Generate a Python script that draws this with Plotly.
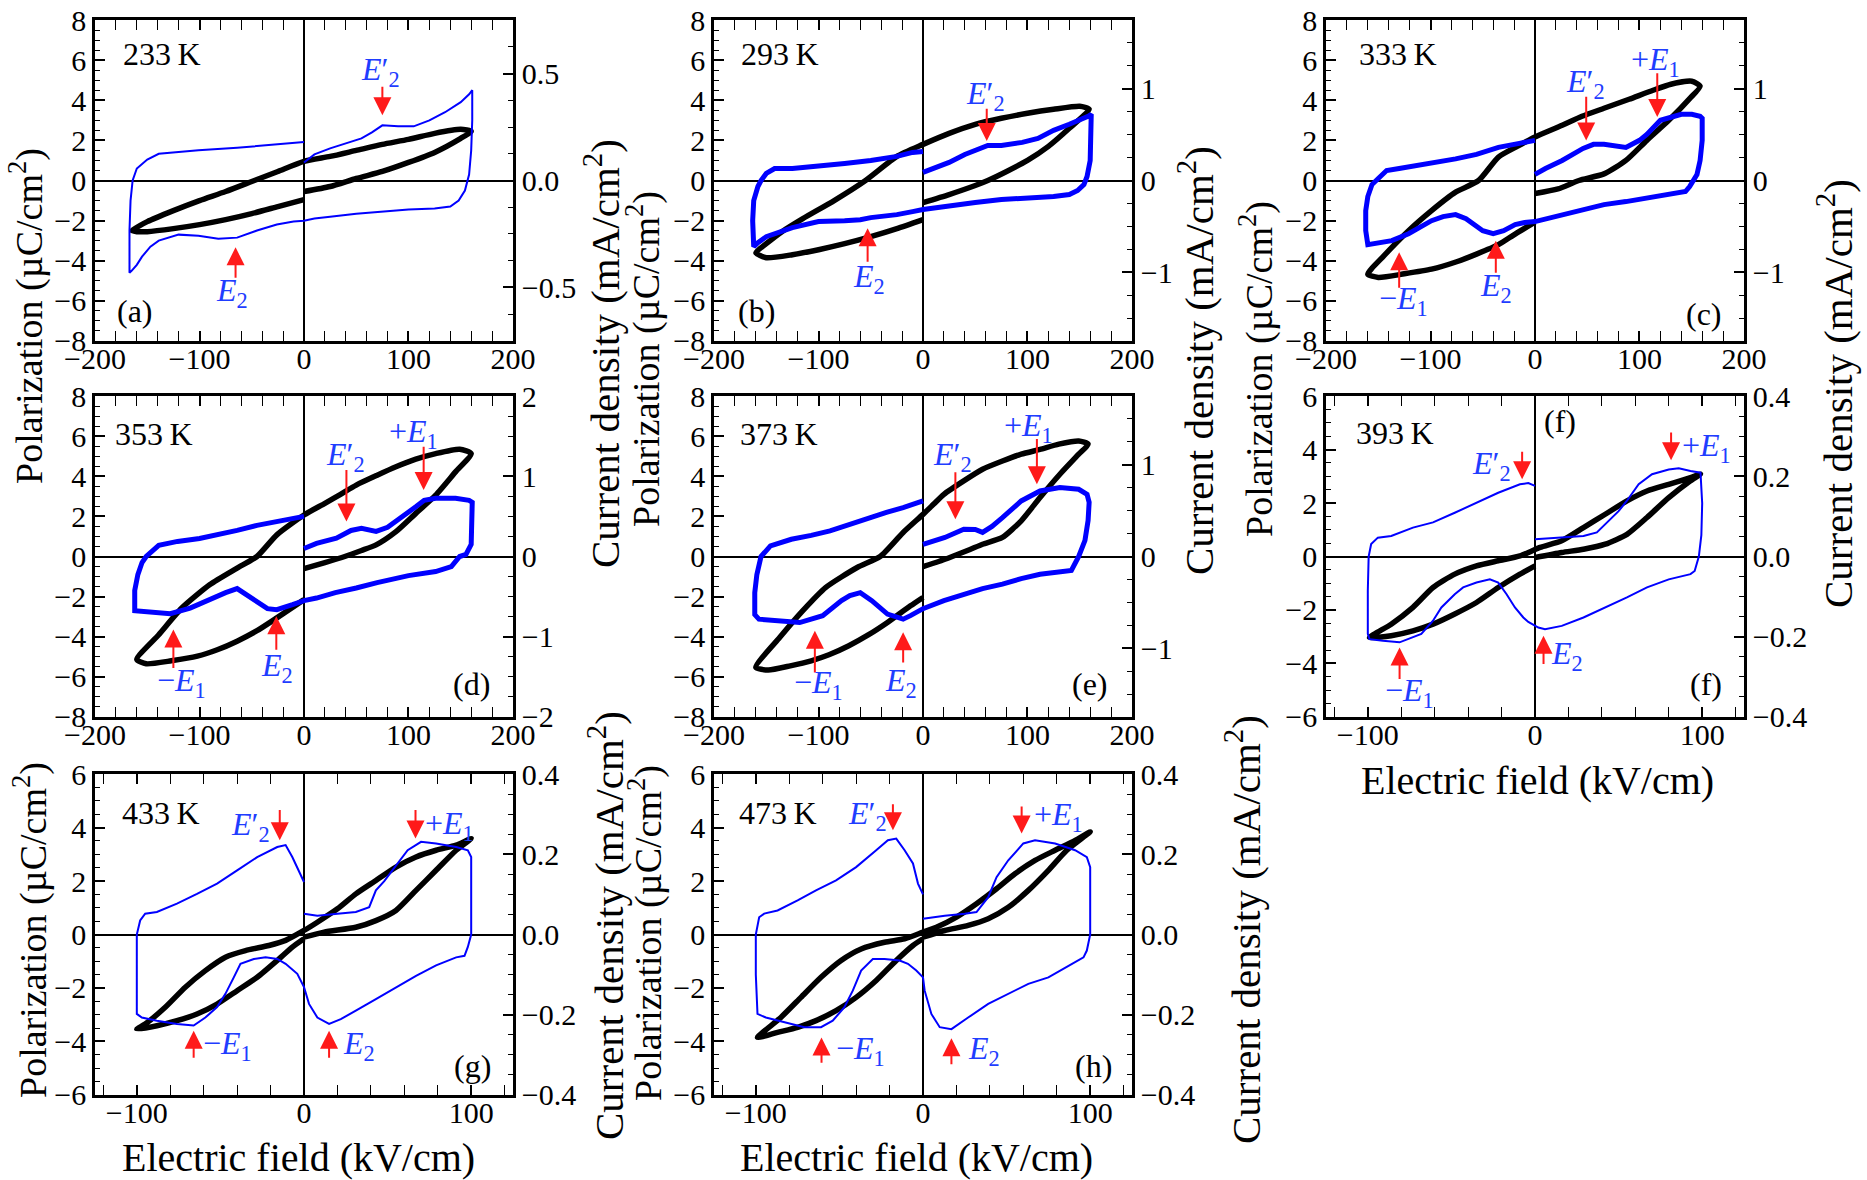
import plotly.graph_objects as go

FONT = "Liberation Serif, DejaVu Serif, Times New Roman, serif"
BLUE = "#0000ff"
LBLUE = "#1f3dff"
RED = "#ff1a1a"

# ---------------- data (E in kV/cm, P in uC/cm2, J in mA/cm2) ----------------
# (a) 233 K
a_E_pe = [0, 25, 50, 75, 100, 125, 150, 160, 150, 125, 100, 75, 50, 25, 0, -25, -50, -75, -100, -125, -150, -165, -160, -150, -125, -100, -75, -50, -25, 0]
a_P = [-0.55, -0.3, 0.1, 0.45, 0.9, 1.4, 2.1, 2.45, 2.55, 2.35, 2.05, 1.8, 1.5, 1.2, 0.95, 0.45, -0.05, -0.55, -1.0, -1.5, -2.05, -2.5, -2.55, -2.55, -2.4, -2.2, -1.95, -1.65, -1.3, -0.95]
a_E_j = [0, 10, 25, 40, 55, 65, 75, 90, 105, 120, 135, 150, 158, 161, 161, 160, 158, 154, 148, 140, 125, 100, 75, 50, 25, 10, 0, -10, -26, -45, -64, -82, -101, -120, -139, -147, -155, -160, -165, -167, -167, -166, -164, -160, -150, -139, -120, -101, -64, -26, 0]
a_J = [0.084, 0.122, 0.150, 0.173, 0.197, 0.225, 0.258, 0.253, 0.253, 0.281, 0.319, 0.366, 0.403, 0.422, 0.281, 0.141, 0.028, -0.047, -0.094, -0.122, -0.131, -0.136, -0.145, -0.155, -0.169, -0.178, -0.188, -0.192, -0.206, -0.234, -0.267, -0.272, -0.258, -0.253, -0.281, -0.309, -0.356, -0.394, -0.422, -0.431, -0.234, -0.094, 0.0, 0.056, 0.098, 0.125, 0.133, 0.141, 0.153, 0.169, 0.180]

# (b) 293 K
b_E_pe = [0, 25, 50, 62, 80, 100, 120, 140, 159, 150, 125, 100, 75, 50, 25, 0, -25, -55, -85, -115, -135, -150, -160, -150, -125, -100, -75, -50, -25, 0]
b_P = [-1.1, -0.7, -0.25, 0.0, 0.45, 1.0, 1.7, 2.6, 3.56, 3.7, 3.55, 3.35, 3.1, 2.8, 2.35, 1.8, 1.2, 0.0, -1.0, -1.9, -2.55, -3.15, -3.6, -3.85, -3.7, -3.45, -3.15, -2.8, -2.4, -1.95]
b_E_j = [0, 10, 25, 40, 55, 62, 75, 95, 110, 125, 140, 150, 158, 161, 161, 160, 157, 154, 148, 140, 125, 100, 75, 50, 25, 10, 0, -10, -25, -50, -60, -75, -100, -125, -140, -150, -158, -162, -163, -162, -158, -155, -150, -142, -125, -100, -75, -50, -25, -10, 0]
b_J = [0.088, 0.131, 0.197, 0.284, 0.35, 0.383, 0.383, 0.416, 0.459, 0.547, 0.613, 0.656, 0.7, 0.722, 0.438, 0.219, 0.044, -0.044, -0.109, -0.153, -0.175, -0.186, -0.208, -0.241, -0.273, -0.295, -0.317, -0.339, -0.372, -0.405, -0.427, -0.438, -0.448, -0.514, -0.569, -0.613, -0.678, -0.722, -0.438, -0.219, -0.066, 0.0, 0.077, 0.131, 0.131, 0.153, 0.186, 0.219, 0.263, 0.306, 0.317]

# (c) 333 K
c_E_pe = [0, 22, 42, 66, 87, 107, 128, 148, 158, 150, 130, 113, 90, 66, 45, 26, 0, -17, -35, -54, -76, -99, -121, -146, -160, -150, -125, -99, -75, -56, -35, -19, 0]
c_P = [-0.65, -0.42, 0.0, 0.33, 1.0, 2.0, 3.0, 4.08, 4.7, 4.95, 4.8, 4.5, 4.05, 3.6, 3.2, 2.75, 2.17, 1.7, 1.17, 0.0, -0.58, -1.5, -2.5, -3.83, -4.67, -4.83, -4.65, -4.42, -4.05, -3.67, -3.2, -2.67, -2.08]
c_E_j = [0, 10, 26, 46, 56, 66, 87, 100, 107, 120, 140, 150, 158, 160, 160, 158, 155, 152, 148, 144, 128, 100, 87, 66, 46, 25, 5, 0, -10, -19, -30, -40, -50, -56, -66, -76, -88, -99, -110, -121, -137, -150, -157, -160, -162, -162, -160, -156, -150, -142, -130, -117, -100, -76, -56, -35, -15, 0]
c_J = [0.066, 0.131, 0.219, 0.35, 0.394, 0.394, 0.361, 0.438, 0.503, 0.656, 0.722, 0.722, 0.7, 0.678, 0.438, 0.219, 0.066, 0.0, -0.066, -0.12, -0.153, -0.208, -0.23, -0.263, -0.317, -0.372, -0.427, -0.448, -0.459, -0.481, -0.547, -0.58, -0.547, -0.503, -0.416, -0.372, -0.394, -0.438, -0.514, -0.58, -0.656, -0.678, -0.7, -0.7, -0.547, -0.328, -0.175, -0.044, 0.022, 0.109, 0.131, 0.153, 0.186, 0.236, 0.284, 0.361, 0.405, 0.438]

# (d) 353 K
d_E_pe = [0, 20, 39, 55, 69, 88, 107, 126, 145, 160, 149, 126, 107, 88, 70, 50, 35, 20, 0, -26, -45, -64, -90, -117, -139, -160, -151, -127, -102, -83, -64, -45, -26, 0]
d_P = [-0.6, -0.3, 0.0, 0.3, 0.58, 1.24, 2.15, 3.06, 4.22, 5.13, 5.35, 5.13, 4.85, 4.47, 4.05, 3.56, 3.1, 2.65, 2.07, 1.08, 0.0, -0.58, -1.4, -2.57, -3.9, -5.13, -5.35, -5.2, -4.97, -4.65, -4.22, -3.7, -3.06, -2.15]
d_E_j = [0, 12, 31, 45, 55, 69, 80, 88, 100, 107, 115, 126, 145, 158, 161, 161, 160, 155, 149, 141, 126, 100, 88, 70, 50, 30, 12, 0, -11, -26, -35, -41, -52, -64, -75, -86, -109, -128, -147, -158, -162, -162, -159, -155, -151, -139, -121, -100, -83, -64, -45, -25, -11, 0]
d_J = [0.1, 0.163, 0.228, 0.325, 0.35, 0.313, 0.363, 0.435, 0.55, 0.62, 0.7, 0.725, 0.725, 0.7, 0.675, 0.375, 0.15, 0.025, 0.0, -0.125, -0.188, -0.238, -0.27, -0.325, -0.393, -0.45, -0.518, -0.55, -0.6, -0.663, -0.65, -0.6, -0.5, -0.4, -0.45, -0.518, -0.643, -0.713, -0.688, -0.688, -0.675, -0.425, -0.225, -0.075, 0.0, 0.138, 0.188, 0.225, 0.27, 0.325, 0.388, 0.438, 0.475, 0.5]

# (e) 373 K
e_E_pe = [0, 15, 28, 45, 57, 76, 94, 112, 131, 149, 158, 149, 130, 112, 94, 76, 57, 39, 20, 10, 0, -19, -41, -63, -93, -115, -137, -160, -148, -127, -107, -90, -71, -52, -34, -12, 0]
e_P = [-0.5, -0.25, 0.0, 0.35, 0.61, 0.95, 1.78, 2.94, 4.1, 5.1, 5.6, 5.76, 5.6, 5.34, 5.1, 4.76, 4.35, 3.77, 3.1, 2.6, 2.1, 1.2, 0.0, -0.55, -1.54, -2.7, -4.03, -5.53, -5.66, -5.45, -5.2, -4.9, -4.45, -3.9, -3.29, -2.46, -2.04]
e_E_j = [0, 10, 21, 39, 50, 57, 66, 76, 94, 112, 131, 149, 157, 159, 158, 155, 152, 149, 142, 112, 94, 76, 57, 39, 20, 3, 0, -12, -19, -34, -49, -60, -70, -78, -96, -118, -137, -157, -161, -161, -159, -155, -146, -126, -107, -89, -70, -52, -35, -19, -8, 0]
e_J = [0.131, 0.164, 0.208, 0.298, 0.295, 0.263, 0.328, 0.424, 0.606, 0.715, 0.753, 0.733, 0.678, 0.591, 0.394, 0.175, 0.066, 0.0, -0.153, -0.193, -0.241, -0.302, -0.35, -0.411, -0.481, -0.556, -0.569, -0.645, -0.683, -0.628, -0.481, -0.394, -0.427, -0.481, -0.645, -0.72, -0.7, -0.683, -0.634, -0.394, -0.197, 0.0, 0.116, 0.188, 0.23, 0.28, 0.35, 0.424, 0.481, 0.534, 0.569, 0.606]

# (f) 393 K
f_E_pe = [0, 16, 29, 42, 55, 67, 80, 93, 99, 93, 80, 67, 55, 42, 29, 16, 3, -9, -22, -35, -48, -61, -73, -86, -99, -86, -73, -61, -48, -35, -22, -9, 0]
f_P = [-0.04, 0.15, 0.27, 0.46, 0.83, 1.46, 2.2, 2.83, 3.08, 2.95, 2.7, 2.45, 2.08, 1.58, 1.08, 0.59, 0.34, 0.02, -0.16, -0.35, -0.66, -1.16, -1.9, -2.53, -3.03, -2.96, -2.78, -2.53, -2.15, -1.72, -1.16, -0.66, -0.35]
f_E_j = [0, 16, 29, 37, 44, 50, 55, 62, 70, 80, 86, 93, 99, 100, 99.5, 98, 95.5, 93, 80, 67, 55, 42, 29, 16, 6, 2, 0, -4, -7, -12, -17, -22, -27, -35, -43, -48, -56, -61, -68, -76, -81, -91, -99, -100, -100, -99.5, -98, -94, -86, -73, -61, -48, -35, -22, -9, -4, 0]
f_J = [0.043, 0.047, 0.051, 0.06, 0.089, 0.113, 0.139, 0.18, 0.205, 0.217, 0.22, 0.213, 0.209, 0.133, 0.053, 0.0, -0.036, -0.044, -0.057, -0.077, -0.102, -0.127, -0.152, -0.173, -0.181, -0.177, -0.173, -0.163, -0.152, -0.127, -0.094, -0.065, -0.057, -0.065, -0.077, -0.094, -0.127, -0.16, -0.193, -0.206, -0.214, -0.21, -0.206, -0.193, -0.085, 0.0, 0.031, 0.047, 0.051, 0.072, 0.085, 0.109, 0.135, 0.159, 0.18, 0.183, 0.176]

# (g) 433 K
g_E_pe = [0, 12, 31, 43, 55, 67, 79, 91, 100, 91, 79, 67, 55, 43, 31, 20, 8, 0, -11, -21, -35, -47, -59, -71, -83, -95, -100, -88, -76, -64, -52, -40, -28, -16, -7, 0]
g_P = [-0.1, 0.09, 0.27, 0.52, 0.9, 1.65, 2.4, 3.15, 3.59, 3.34, 3.15, 2.9, 2.52, 2.02, 1.52, 0.96, 0.46, 0.15, -0.22, -0.41, -0.6, -0.85, -1.35, -1.97, -2.72, -3.35, -3.54, -3.41, -3.22, -2.97, -2.6, -2.1, -1.6, -0.97, -0.47, -0.16]
g_E_j = [0, 8, 20, 31, 39, 43, 48, 53, 62, 70, 79, 91, 98, 100, 100, 100, 98, 96, 91, 79, 67, 55, 43, 31, 22, 15, 8, 3, 0, -4, -11, -16, -23, -30, -38, -42, -47, -52, -59, -66, -76, -88, -97, -100, -100, -100, -98, -95, -88, -76, -64, -52, -40, -28, -16, -11, -7, -2, 0]
g_J = [0.052, 0.047, 0.052, 0.056, 0.068, 0.11, 0.133, 0.16, 0.21, 0.231, 0.227, 0.218, 0.21, 0.193, 0.127, 0.0, -0.031, -0.053, -0.057, -0.077, -0.103, -0.131, -0.161, -0.19, -0.211, -0.223, -0.207, -0.173, -0.131, -0.098, -0.073, -0.061, -0.057, -0.061, -0.073, -0.107, -0.148, -0.181, -0.207, -0.227, -0.223, -0.215, -0.207, -0.198, -0.123, 0.0, 0.035, 0.052, 0.056, 0.077, 0.101, 0.127, 0.16, 0.193, 0.218, 0.223, 0.193, 0.151, 0.131]

# (h) 473 K
h_E_pe = [0, 13, 27, 39, 51, 63, 75, 86, 100, 91, 79, 67, 55, 44, 32, 20, 8, 0, -11, -23, -37, -49, -61, -73, -85, -99, -87, -75, -64, -52, -40, -28, -16, -6, 0]
h_P = [-0.1, 0.15, 0.34, 0.59, 1.02, 1.65, 2.4, 3.15, 3.84, 3.52, 3.15, 2.77, 2.27, 1.71, 1.15, 0.65, 0.27, 0.09, -0.16, -0.29, -0.54, -0.97, -1.6, -2.35, -3.1, -3.85, -3.66, -3.47, -3.22, -2.85, -2.35, -1.72, -0.97, -0.41, -0.16]
h_E_j = [0, 13, 25, 32, 39, 44, 51, 60, 67, 79, 91, 98, 100, 100, 100, 98, 96, 86, 75, 63, 51, 39, 27, 17, 10, 5, 1, 0, -4, -9, -14, -23, -30, -37, -42, -47, -54, -61, -71, -83, -94, -99, -100, -100, -98, -95, -87, -75, -64, -52, -40, -28, -21, -16, -11, -6, -3, 0]
h_J = [0.039, 0.047, 0.052, 0.056, 0.093, 0.143, 0.185, 0.227, 0.235, 0.227, 0.21, 0.193, 0.168, 0.067, 0.0, -0.04, -0.057, -0.081, -0.107, -0.123, -0.148, -0.173, -0.207, -0.236, -0.231, -0.198, -0.14, -0.107, -0.09, -0.073, -0.065, -0.061, -0.061, -0.09, -0.14, -0.181, -0.215, -0.231, -0.231, -0.219, -0.207, -0.198, -0.1, 0.0, 0.043, 0.052, 0.06, 0.085, 0.11, 0.135, 0.168, 0.21, 0.235, 0.239, 0.21, 0.177, 0.127, 0.1]

temps = ["233\u2009K", "293\u2009K", "333\u2009K", "353\u2009K", "373\u2009K", "393\u2009K", "433\u2009K", "473\u2009K"]
letters = ["(a)", "(b)", "(c)", "(d)", "(e)", "(f)", "(g)", "(h)"]

# ---------------- layout / style ----------------
pe_x = [a_E_pe, b_E_pe, c_E_pe, d_E_pe, e_E_pe, f_E_pe, g_E_pe, h_E_pe]
pe_y = [a_P, b_P, c_P, d_P, e_P, f_P, g_P, h_P]
j_x = [a_E_j, b_E_j, c_E_j, d_E_j, e_E_j, f_E_j, g_E_j, h_E_j]
j_y = [a_J, b_J, c_J, d_J, e_J, f_J, g_J, h_J]

W, H = 1867, 1180


def px(X):
    return X / W


def py(Y):
    return 1 - Y / H


grid_pos = [(0, 0), (0, 1), (0, 2), (1, 0), (1, 1), (1, 2), (2, 0), (2, 1)]
col_px = [(95, 513), (714, 1132), (1326, 1744)]
row_px = [(20, 341), (396, 717), (774, 1095)]
xdom = [[px(a), px(b)] for a, b in col_px]
ydom = [[py(b), py(a)] for a, b in row_px]
xr = [200, 200, 200, 200, 200, 125, 125, 125]
pr = [8, 8, 8, 8, 8, 6, 6, 6]
jr = [0.75, 1.75, 1.75, 2.0, 1.75, 0.4, 0.4, 0.4]
jdt = [0.5, 1, 1, 1, 1, 0.2, 0.2, 0.2]
jmin = [0.125, 0.25, 0.25, 0.25, 0.25, 0.05, 0.05, 0.05]
jfmt = [".1f", "d", "d", "d", "d", ".1f", ".1f", ".1f"]
blue_w = [2.0, 5.0, 5.0, 5.0, 5.0, 2.0, 2.0, 2.0]

temp_pos = [(-175, 6.33), (-176, 6.33), (-170, 6.33), (-183, 6.13), (-177, 6.12), (-108, 4.6), (-110, 4.53), (-111, 4.53)]
letter_pos = [[(-162, -6.5)], [(-159, -6.53)], [(162, -6.67)], [(160, -6.37)], [(160, -6.36)],
              [(15, 5.07), (102, -4.77)], [(100.5, -4.9)], [(102, -4.91)]]

E2p = "<i>E</i>\u2032<sub>2</sub>"
E2 = "<i>E</i><sub>2</sub>"
pE1 = "+<i>E</i><sub>1</sub>"
mE1 = "\u2212<i>E</i><sub>1</sub>"

# arrows: (x, head y, tail y)
arrows = [
    [(75, 3.25, 4.75), (-65.5, -3.33, -4.92)],
    [(61, 1.97, 3.65), (-53, -2.38, -4.13)],
    [(49, 2.0, 4.25), (117, 3.17, 5.42), (-130, -3.58, -5.42), (-37.5, -3.0, -4.67)],
    [(40.6, 1.74, 4.39), (114.5, 3.31, 5.55), (-125, -3.64, -5.63), (-26.5, -2.98, -4.72)],
    [(31, 1.86, 4.27), (109, 3.6, 5.93), (-103.5, -3.7, -5.86), (-19, -3.78, -5.36)],
    [(-7.7, 2.89, 3.97), (81.4, 3.6, 4.69), (-81, -3.4, -4.64), (5.1, -2.96, -4.08)],
    [(-14.5, 3.52, 4.71), (66.7, 3.59, 4.71), (-66, -3.6, -4.66), (15, -3.6, -4.66)],
    [(-18, 3.9, 4.93), (59, 3.78, 4.84), (-60.7, -3.85, -4.85), (17, -3.88, -4.91)],
]
# labels: (x, y, text, xanchor)
labels = [
    [(73, 5.42, E2p, "center"), (-69, -5.6, E2, "center")],
    [(60, 4.23, E2p, "center"), (-52, -4.9, E2, "center")],
    [(48, 4.85, E2p, "center"), (115, 5.95, pE1, "center"), (-126, -6.0, mE1, "center"), (-37, -5.35, E2, "center")],
    [(40, 5.0, E2p, "center"), (105, 6.15, pE1, "center"), (-117, -6.3, mE1, "center"), (-26, -5.55, E2, "center")],
    [(28, 5.0, E2p, "center"), (101, 6.42, pE1, "center"), (-100, -6.36, mE1, "center"), (-21, -6.27, E2, "center")],
    [(-26, 3.39, E2p, "center"), (86.5, 4.07, pE1, "left"), (-75, -5.08, mE1, "center"), (8.5, -3.71, E2, "left")],
    [(-32, 4.03, E2p, "center"), (71.4, 4.09, pE1, "left"), (-61.4, -4.16, mE1, "left"), (22, -4.16, E2, "left")],
    [(-33, 4.46, E2p, "center"), (65, 4.4, pE1, "left"), (-53, -4.35, mE1, "left"), (25.7, -4.35, E2, "left")],
]

fig = go.Figure()
layout = dict(
    width=W, height=H, autosize=False,
    margin=dict(l=0, r=0, t=0, b=0, pad=0, autoexpand=False),
    paper_bgcolor="white", plot_bgcolor="white",
    showlegend=False,
    font=dict(family=FONT, size=30, color="black"),
)
annotations = []

tickfont = dict(family=FONT, size=30, color="black")
for i in range(8):
    r, c = grid_pos[i]
    xn = "x" if i == 0 else f"x{i+1}"
    yl = "y" if i == 0 else f"y{2*i+1}"
    yr = f"y{2*i+2}"
    xk = "xaxis" if i == 0 else f"xaxis{i+1}"
    ylk = "yaxis" if i == 0 else f"yaxis{2*i+1}"
    yrk = f"yaxis{2*i+2}"

    fig.add_trace(go.Scatter(x=pe_x[i], y=pe_y[i], xaxis=xn, yaxis=yl, mode="lines",
                             line=dict(color="black", width=5.5, shape="spline", smoothing=0.6),
                             hoverinfo="skip"))
    fig.add_trace(go.Scatter(x=j_x[i], y=j_y[i], xaxis=xn, yaxis=yr, mode="lines",
                             line=dict(color=BLUE, width=blue_w[i]), hoverinfo="skip"))

    layout[xk] = dict(domain=xdom[c], anchor=yl, range=[-xr[i] - 0.01, xr[i] + 0.01],
                      tick0=0, dtick=100, ticks="inside", ticklen=10, tickwidth=1.6, tickcolor="black",
                      minor=dict(dtick=20, tick0=0, ticks="inside", ticklen=5, tickwidth=1.3, tickcolor="black"),
                      showline=True, linecolor="black", linewidth=2.5, mirror="allticks",
                      showgrid=False, zeroline=True, zerolinecolor="black", zerolinewidth=1.6,
                      tickfont=tickfont, ticklabelstandoff=-11, automargin=False,
                      ticklabeloverflow="allow")
    layout[ylk] = dict(domain=ydom[r], anchor=xn, range=[-pr[i] - 0.001, pr[i] + 0.001],
                       tick0=0, dtick=2, ticks="inside", ticklen=10, tickwidth=1.6, tickcolor="black",
                       minor=dict(dtick=0.5, tick0=0, ticks="inside", ticklen=5, tickwidth=1.3, tickcolor="black"),
                       showline=True, linecolor="black", linewidth=2.5, mirror=True,
                       showgrid=False, zeroline=True, zerolinecolor="black", zerolinewidth=1.6,
                       tickfont=tickfont, automargin=False, ticklabeloverflow="allow")
    layout[yrk] = dict(overlaying=yl, side="right", anchor=xn,
                       range=[-jr[i] - 0.0001, jr[i] + 0.0001],
                       tick0=0, dtick=jdt[i], tickformat=jfmt[i],
                       ticks="inside", ticklen=10, tickwidth=1.6, tickcolor="black",
                       minor=dict(dtick=jmin[i], tick0=0, ticks="inside", ticklen=5, tickwidth=1.3, tickcolor="black"),
                       showline=True, linecolor="black", linewidth=2.5,
                       showgrid=False, zeroline=False, tickfont=tickfont, automargin=False,
                       ticklabeloverflow="allow")

    tx, ty = temp_pos[i]
    annotations.append(dict(x=tx, y=ty, xref=xn, yref=yl, text=temps[i], showarrow=False,
                            xanchor="left", yanchor="middle",
                            font=dict(family=FONT, size=32, color="black")))
    for (lx, ly) in letter_pos[i]:
        annotations.append(dict(x=lx, y=ly, xref=xn, yref=yl, text=letters[i], showarrow=False,
                                xanchor="center", yanchor="middle",
                                font=dict(family=FONT, size=32, color="black")))
    for (ax_, hy, tyy) in arrows[i]:
        annotations.append(dict(x=ax_, y=hy, ax=ax_, ay=tyy, xref=xn, yref=yl, axref=xn, ayref=yl,
                                text="", showarrow=True, arrowhead=2, arrowsize=1.8, arrowwidth=2,
                                arrowcolor=RED))
    for (lx, ly, txt, xa) in labels[i]:
        annotations.append(dict(x=lx, y=ly, xref=xn, yref=yl, text=txt, showarrow=False,
                                xanchor=xa, yanchor="middle",
                                font=dict(family=FONT, size=32, color=LBLUE)))

# axis titles (positions as in the original figure, page pixels)
pol = "Polarization (\u00b5C/cm<sup>2</sup>)"
cur = "Current density (mA/cm<sup>2</sup>)"
ef = "Electric field (kV/cm)"
for (X, Y) in [(26, 316), (643, 359), (1256, 369), (30, 930), (645, 933)]:
    annotations.append(dict(x=px(X), y=py(Y), xref="paper", yref="paper", text=pol, textangle=-90,
                            showarrow=False, xanchor="center", yanchor="middle",
                            font=dict(family=FONT, size=38, color="black")))
for (X, Y) in [(602, 354), (1196, 361), (1835, 394), (606, 926), (1243, 930)]:
    annotations.append(dict(x=px(X), y=py(Y), xref="paper", yref="paper", text=cur, textangle=-90,
                            showarrow=False, xanchor="center", yanchor="middle",
                            font=dict(family=FONT, size=41, color="black")))
for (X, Y) in [(1537, 780), (298, 1157), (916, 1157)]:
    annotations.append(dict(x=px(X), y=py(Y), xref="paper", yref="paper", text=ef,
                            showarrow=False, xanchor="center", yanchor="middle",
                            font=dict(family=FONT, size=40, color="black")))

layout["annotations"] = annotations
fig.update_layout(**layout)
fig.write_html("out.html", config={"displayModeBar": False},
               post_script="document.body.style.margin='0';document.body.style.overflow='hidden';")
